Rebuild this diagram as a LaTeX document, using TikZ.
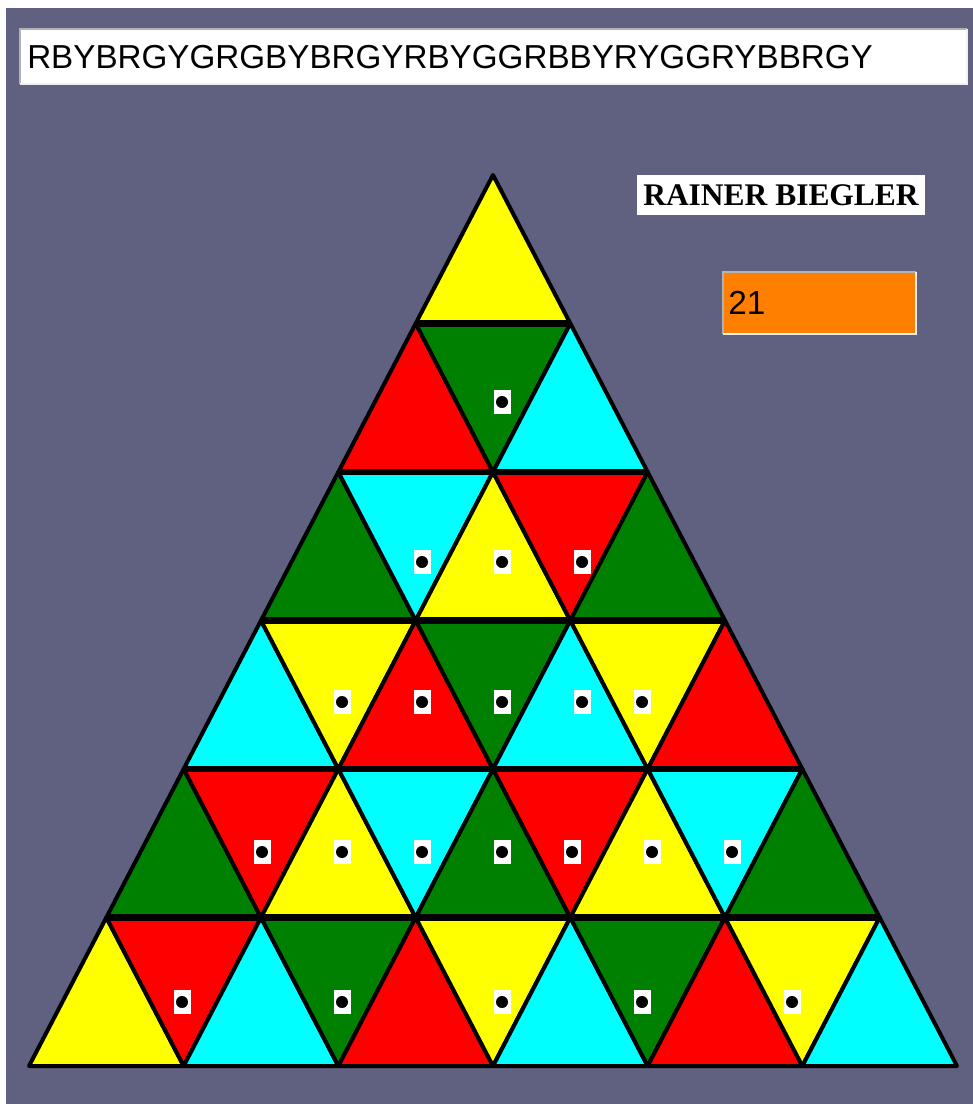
\documentclass[tikz,border=0pt]{standalone}
\usepackage{fontspec}
\setmainfont{Liberation Serif}
\newfontfamily\arialfont{Liberation Sans}
\usetikzlibrary{calc}
\definecolor{slate}{RGB}{96,96,128}
\definecolor{pY}{RGB}{255,255,0}
\definecolor{pR}{RGB}{255,0,0}
\definecolor{pG}{RGB}{0,128,0}
\definecolor{pC}{RGB}{0,255,255}
\definecolor{porange}{RGB}{255,128,0}
\newcommand{\hs}{77.33}  % half side of a tile (px)
\newcommand{\rh}{148.5}  % row height (px)
\tikzset{
  tile/.style={draw=black,line width=3pt,line join=round},
  seam/.style={draw=black,line width=5pt},
  markbox/.style={fill=white},
  markdot/.style={fill=black},
  lowedge/.style={draw=gray!60,line width=1.5pt},
  highedge/.style={draw=gray!12,line width=1.5pt},
  namebox/.style={fill=white,inner sep=0pt,minimum width=216pt,minimum height=30pt,font=\bfseries\fontsize{23.6}{26}\selectfont},
  scorebox/.style={fill=porange,inner sep=0pt,minimum width=144.75pt,minimum height=46.5pt},
  boxtext/.style={inner sep=0pt,anchor=west,font=\arialfont\fontsize{24.9}{28}\selectfont}
}

\begin{document}
\begin{tikzpicture}[x=0.75pt,y=-0.75pt]
  \useasboundingbox (0,0) rectangle (973,1104);
  \fill[white] (0,0) rectangle (973,1104);
  \fill[slate] (6,8) rectangle (973,1104);
  % colour string box
  \fill[white] (20,29) rectangle (967,84);
  \draw[lowedge] (20,84) -- (20,29) -- (967,29);
  \draw[highedge] (20,84) -- (967,84) -- (967,29);
  \node[boxtext] (code) at (27,57) {RBYBRGYGRGBYBRGYRBYGGRBBYRYGGRYBBRGY};
  % name and score
  \node[namebox] (author) at (781,195) {RAINER BIEGLER};
  \node[scorebox] (score) at (819.5,303) {};
  \draw[lowedge] (score.south west) -- (score.north west) -- (score.north east);
  \draw[highedge] (score.south west) -- (score.south east) -- (score.north east);
  \node[boxtext,font=\arialfont\fontsize{25}{28}\selectfont] (scoreval) at ([xshift=4pt]score.west) {21};
  % tiles, row by row, left to right
  \foreach \k/\row in {0/{Y},1/{R,G,C},2/{G,C,Y,R,G},3/{C,Y,R,G,C,Y,R},4/{G,R,Y,C,G,R,Y,C,G},5/{Y,R,C,G,R,Y,C,G,R,Y,C}}{
    \foreach \c [count=\t from 0] in \row {
      \pgfmathsetmacro\xp{493+(\t-\k)*\hs}
      \pgfmathsetmacro\yt{175+\k*\rh}
      \pgfmathsetmacro\yb{\yt+\rh}
      \ifodd\t
        \filldraw[tile,fill=p\c] (\xp-\hs,\yt) -- (\xp+\hs,\yt) -- (\xp,\yb) -- cycle;
      \else
        \filldraw[tile,fill=p\c] (\xp,\yt) -- (\xp+\hs,\yb) -- (\xp-\hs,\yb) -- cycle;
      \fi
    }
  }
  \foreach \k in {1,...,5}
    \draw[seam] (493-\k*\hs,175+\k*\rh) -- (493+\k*\hs,175+\k*\rh);
  % markers
  \foreach \px/\py in {502/402,
      422/562,502/562,582/562,
      342/702,422/702,502/702,582/702,642/702,
      262/852,342/852,422/852,502/852,572/852,652/852,732/852,
      182/1002,342/1002,502/1002,642/1002,792/1002}{
    \fill[markbox] (\px-8.5,\py-12) rectangle (\px+8.5,\py+12);
    \fill[markdot] (\px,\py) circle[radius=4.5pt];
  }
\end{tikzpicture}
\end{document}
